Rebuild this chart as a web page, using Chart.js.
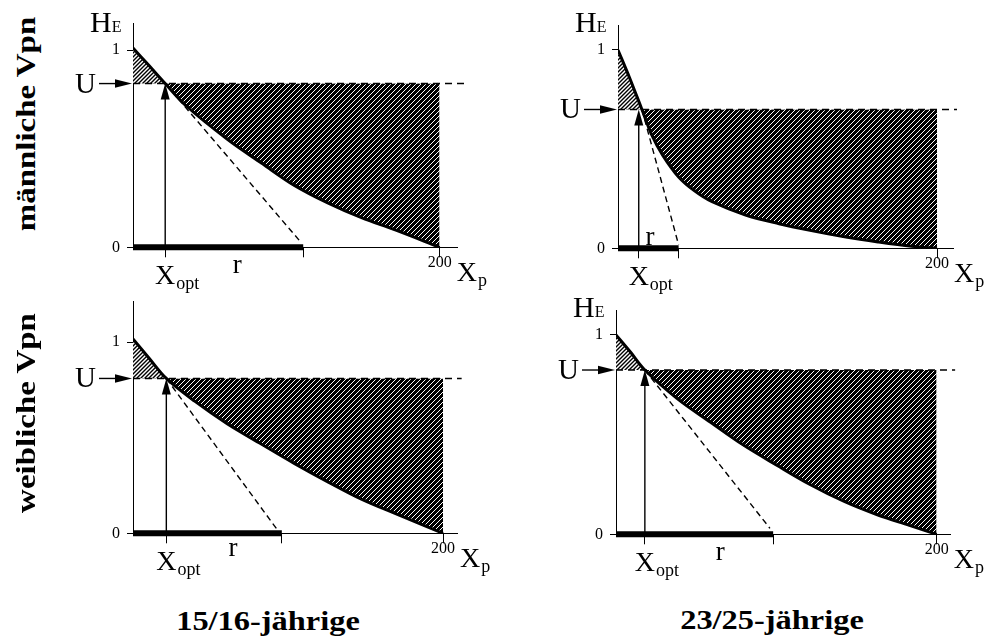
<!DOCTYPE html>
<html>
<head>
<meta charset="utf-8">
<script src="https://cdn.jsdelivr.net/npm/chart.js@4.4.1/dist/chart.umd.min.js"></script>
<style>
  html, body { margin: 0; padding: 0; background: #fff; }
  #page { position: relative; width: 998px; height: 638px; overflow: hidden; font-family: "Liberation Serif", "Times New Roman", serif; }
  canvas { position: absolute; }
  .lbl { position: absolute; font-weight: bold; white-space: nowrap; line-height: 1; color: #000; }
</style>
</head>
<body>
<div id="page">
  <canvas id="c1" width="450" height="300" style="left:50px;top:0px"></canvas>
  <canvas id="c2" width="468" height="300" style="left:530px;top:0px"></canvas>
  <canvas id="c3" width="450" height="305" style="left:50px;top:285px"></canvas>
  <canvas id="c4" width="468" height="305" style="left:530px;top:285px"></canvas>

  <div class="lbl" style="left:26px;top:124px;font-size:27px;transform:translate(-50%,-50%) rotate(-90deg) scaleX(1.22)">männliche Vpn</div>
  <div class="lbl" style="left:26px;top:413px;font-size:27px;transform:translate(-50%,-50%) rotate(-90deg) scaleX(1.22)">weibliche Vpn</div>
  <div class="lbl" style="left:268px;top:621px;font-size:27px;transform:translate(-50%,-50%) scaleX(1.2)">15/16-jährige</div>
  <div class="lbl" style="left:772px;top:620px;font-size:27px;transform:translate(-50%,-50%) scaleX(1.2)">23/25-jährige</div>
</div>

<script>
// values (x = X_p, y = H_E)
const p1CurveX = [0, 10, 21, 35, 62, 84, 105, 127, 149, 171, 200];
const p1CurveY = [1.01, 0.925, 0.83, 0.715, 0.545, 0.426, 0.315, 0.225, 0.15, 0.088, 0];
const p1U = 0.83;
const p1Xopt = 21;
const p1REnd = 111;
const p1TangentX = [21, 109];
const p1TangentY = [0.83, 0.03];

const p2CurveX = [0, 7, 15, 21, 28, 38, 48, 59, 80, 101, 122, 142, 163, 184, 200];
const p2CurveY = [1.0, 0.865, 0.70, 0.575, 0.47, 0.36, 0.29, 0.235, 0.168, 0.124, 0.088, 0.058, 0.032, 0.01, 0];
const p2U = 0.70;
const p2Xopt = 13;
const p2REnd = 38;
const p2TangentX = [15, 38];
const p2TangentY = [0.70, 0.017];

const p3CurveX = [0, 10, 21.5, 40, 61, 83, 104, 126, 147, 169, 200];
const p3CurveY = [1.017, 0.92, 0.81, 0.69, 0.572, 0.466, 0.366, 0.268, 0.18, 0.104, 0];
const p3U = 0.81;
const p3Xopt = 21.5;
const p3REnd = 96;
const p3TangentX = [21.5, 92.5];
const p3TangentY = [0.81, 0.025];

const p4CurveX = [0, 9, 18, 38, 59, 79, 100, 121, 142, 163, 183, 200];
const p4CurveY = [1.0, 0.914, 0.824, 0.682, 0.562, 0.45, 0.348, 0.25, 0.166, 0.098, 0.045, 0];
const p4U = 0.824;
const p4Xopt = 18;
const p4REnd = 98;
const p4TangentX = [18, 96];
const p4TangentY = [0.824, 0.03];

const xEnd = 200;
const yTicks = [0, 1];

const serif = '"Liberation Serif", "Times New Roman", serif';
const Y_AXIS_W = 60;
const X_AXIS_H = 45;

// layout of each panel on the page
const panels = [
    { id: 'c1', cv: { left: 50, top: 0, w: 450, h: 300 }, area: { left: 133, top: 23, right: 457, bottom: 247.3 },
      xMax: 211.3, yMax: 1.137, uLineEnd: 216.6, rLabel: [68, -0.13], showHE: true,
      curveX: p1CurveX, curveY: p1CurveY, u: p1U, xopt: p1Xopt, rEnd: p1REnd, tanX: p1TangentX, tanY: p1TangentY },
    { id: 'c2', cv: { left: 530, top: 0, w: 468, h: 300 }, area: { left: 618, top: 25, right: 953, bottom: 248.3 },
      xMax: 210, yMax: 1.126, uLineEnd: 212.5, rLabel: [20, 0.017], showHE: true,
      curveX: p2CurveX, curveY: p2CurveY, u: p2U, xopt: p2Xopt, rEnd: p2REnd, tanX: p2TangentX, tanY: p2TangentY },
    { id: 'c3', cv: { left: 50, top: 285, w: 450, h: 305 }, area: { left: 133, top: 295, right: 457, bottom: 533.3 },
      xMax: 209, yMax: 1.212, uLineEnd: 212, rLabel: [64.5, -0.12], showHE: false,
      curveX: p3CurveX, curveY: p3CurveY, u: p3U, xopt: p3Xopt, rEnd: p3REnd, tanX: p3TangentX, tanY: p3TangentY },
    { id: 'c4', cv: { left: 530, top: 285, w: 468, h: 305 }, area: { left: 616, top: 310, right: 950, bottom: 534.3 },
      xMax: 208.3, yMax: 1.125, uLineEnd: 211.5, rLabel: [65, -0.127], showHE: true,
      curveX: p4CurveX, curveY: p4CurveY, u: p4U, xopt: p4Xopt, rEnd: p4REnd, tanX: p4TangentX, tanY: p4TangentY }
];

// diagonal hatch pattern
function makeHatch(ctx, bg, fg, size, lw) {
    const c = document.createElement('canvas');
    c.width = size;
    c.height = size;
    const g = c.getContext('2d');
    g.fillStyle = bg;
    g.fillRect(0, 0, size, size);
    g.strokeStyle = fg;
    g.lineWidth = lw;
    g.beginPath();
    g.moveTo(0, size); g.lineTo(size, 0);
    g.moveTo(-1, 1); g.lineTo(1, -1);
    g.moveTo(size - 1, size + 1); g.lineTo(size + 1, size - 1);
    g.stroke();
    return ctx.createPattern(c, 'repeat');
}

function arrowHead(ctx, tipX, tipY, dx, dy, len, half) {
    const bx = tipX - dx * len, by = tipY - dy * len;
    ctx.beginPath();
    ctx.moveTo(tipX, tipY);
    ctx.lineTo(bx - dy * half, by + dx * half);
    ctx.lineTo(bx + dy * half, by - dx * half);
    ctx.closePath();
    ctx.fill();
}

function zip(xs, ys) {
    return xs.map((x, i) => ({ x: x, y: ys[i] }));
}

// labels and arrowheads, placed through the chart scales
function labelPlugin(p) {
    return {
        id: 'panelLabels',
        afterDraw(chart) {
            const ctx = chart.ctx;
            const x = chart.scales.x, y = chart.scales.y;
            const a = chart.chartArea;
            const x0 = y.getPixelForValue(0);
            const uPx = y.getPixelForValue(p.u);
            ctx.save();
            ctx.fillStyle = '#000';
            ctx.strokeStyle = '#000';
            ctx.textBaseline = 'alphabetic';

            // H_E
            if (p.showHE) {
                const base = y.getPixelForValue(1) - 18;
                ctx.font = '30px ' + serif;
                ctx.textAlign = 'left';
                ctx.fillText('H', a.left - 43, base);
                const wH = ctx.measureText('H').width;
                ctx.font = '16px ' + serif;
                ctx.fillText('E', a.left - 43 + wH, base);
            }

            // U with arrow
            ctx.font = '29px ' + serif;
            ctx.textAlign = 'right';
            ctx.fillText('U', a.left - 37, uPx + 9);
            ctx.lineWidth = 1.4;
            ctx.beginPath();
            ctx.moveTo(a.left - 34, uPx);
            ctx.lineTo(a.left - 14, uPx);
            ctx.stroke();
            arrowHead(ctx, a.left - 1, uPx, 1, 0, 17, 4.2);

            // arrowhead on X_opt
            arrowHead(ctx, x.getPixelForValue(p.xopt), uPx, 0, -1, 16, 4.5);

            // X_opt
            const xo = x.getPixelForValue(p.xopt);
            ctx.font = '28px ' + serif;
            ctx.textAlign = 'center';
            ctx.fillText('X', xo, x0 + 37);
            const wX = ctx.measureText('X').width;
            ctx.font = '18px ' + serif;
            ctx.textAlign = 'left';
            ctx.fillText('opt', xo + wX / 2 + 1, x0 + 42);

            // r
            ctx.font = '27px ' + serif;
            ctx.textAlign = 'center';
            ctx.fillText('r', x.getPixelForValue(p.rLabel[0]), y.getPixelForValue(p.rLabel[1]));

            // X_p
            const xp = x.getPixelForValue(xEnd) + 17;
            ctx.font = '28px ' + serif;
            ctx.textAlign = 'left';
            ctx.fillText('X', xp, x0 + 34);
            ctx.font = '18px ' + serif;
            ctx.fillText('p', xp + wX + 1, x0 + 39);

            ctx.restore();
        }
    };
}

function makePanel(p) {
    const canvas = document.getElementById(p.id);
    const ctx = canvas.getContext('2d');
    const darkHatch = makeHatch(ctx, '#000', '#fff', 5, 1);
    const lightHatch = makeHatch(ctx, '#fff', '#000', 4, 1.4);
    const xTicks = [p.xopt, p.rEnd, xEnd];

    return new Chart(ctx, {
        type: 'line',
        data: {
            datasets: [
                {   // E-curve, hatched against the U level
                    data: zip(p.curveX, p.curveY),
                    borderColor: '#000',
                    borderWidth: 3,
                    pointRadius: 0,
                    tension: 0.35,
                    fill: { target: 1, above: lightHatch, below: darkHatch }
                },
                {   // U level as fill boundary
                    data: [{ x: 0, y: p.u }, { x: xEnd, y: p.u }],
                    borderWidth: 0,
                    borderColor: 'rgba(0,0,0,0)',
                    pointRadius: 0,
                    fill: false
                },
                {   // U dashed line
                    data: [{ x: 0, y: p.u }, { x: p.uLineEnd, y: p.u }],
                    borderColor: '#000',
                    borderWidth: 1.6,
                    borderDash: [7, 5],
                    pointRadius: 0,
                    fill: false,
                    clip: false
                },
                {   // tangent
                    data: zip(p.tanX, p.tanY),
                    borderColor: '#000',
                    borderWidth: 1.4,
                    borderDash: [6, 4],
                    pointRadius: 0,
                    fill: false
                },
                {   // r bar
                    data: [{ x: 0, y: 0 }, { x: p.rEnd, y: 0 }],
                    borderColor: '#000',
                    borderWidth: 6,
                    borderCapStyle: 'butt',
                    pointRadius: 0,
                    fill: false,
                    clip: false
                },
                {   // X_opt arrow shaft
                    data: [{ x: p.xopt, y: 0 }, { x: p.xopt, y: p.u - 0.05 }],
                    borderColor: '#000',
                    borderWidth: 1.4,
                    pointRadius: 0,
                    fill: false
                }
            ]
        },
        options: {
            responsive: false,
            animation: false,
            events: [],
            layout: {
                padding: {
                    left: p.area.left - p.cv.left - Y_AXIS_W,
                    top: p.area.top - p.cv.top,
                    right: p.cv.left + p.cv.w - p.area.right,
                    bottom: p.cv.top + p.cv.h - p.area.bottom - X_AXIS_H
                }
            },
            plugins: {
                legend: { display: false },
                tooltip: { enabled: false },
                filler: { drawTime: 'beforeDatasetsDraw' }
            },
            scales: {
                x: {
                    type: 'linear',
                    min: 0,
                    max: p.xMax,
                    afterBuildTicks: ax => { ax.ticks = xTicks.map(v => ({ value: v })); },
                    afterFit: ax => { ax.height = X_AXIS_H; },
                    ticks: {
                        autoSkip: false,
                        maxRotation: 0,
                        padding: -4,
                        color: '#000',
                        font: { family: serif, size: 16 },
                        callback: v => (v === xEnd ? '200' : '')
                    },
                    grid: { drawOnChartArea: false, tickLength: 10, color: '#000' },
                    border: { color: '#000', width: 1 }
                },
                y: {
                    type: 'linear',
                    min: 0,
                    max: p.yMax,
                    afterBuildTicks: ax => { ax.ticks = yTicks.map(v => ({ value: v })); },
                    afterFit: ax => { ax.width = Y_AXIS_W; },
                    ticks: {
                        padding: 7,
                        color: '#000',
                        font: { family: serif, size: 16 },
                        callback: v => String(v)
                    },
                    grid: { drawOnChartArea: false, tickLength: 6, color: '#000' },
                    border: { color: '#000', width: 1 }
                }
            }
        },
        plugins: [labelPlugin(p)]
    });
}

panels.forEach(makePanel);
</script>
</body>
</html>
